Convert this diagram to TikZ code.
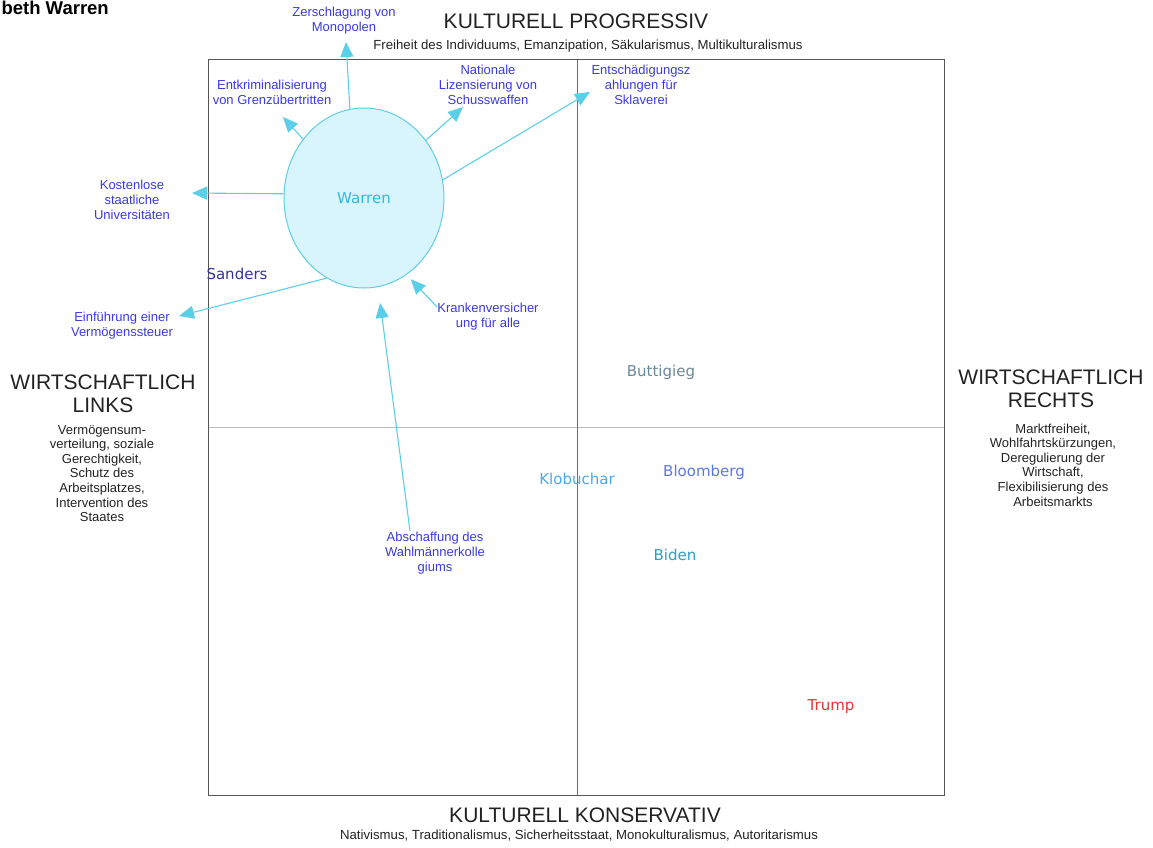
\documentclass[tikz,border=0pt]{standalone}
\usepackage{fontspec}
\setmainfont{Liberation Sans}
\newfontfamily\candfont{DejaVu Sans}
\usetikzlibrary{shapes.geometric,arrows.meta}

\definecolor{headgray}{HTML}{222222}
\definecolor{framegray}{HTML}{555555}
\definecolor{midgray}{HTML}{6E6E6E}
\definecolor{lightgray}{HTML}{BBBBBB}
\definecolor{policyblue}{RGB}{58,58,222}
\definecolor{linkcyan}{HTML}{5CCFE8}
\definecolor{bubblefill}{HTML}{D8F4FC}
\definecolor{bubbleedge}{HTML}{62CDE6}
\definecolor{warrencol}{HTML}{35B8DE}
\definecolor{sanderscol}{HTML}{333399}
\definecolor{buttcol}{HTML}{6A8896}
\definecolor{klobcol}{HTML}{4AA8EE}
\definecolor{bloomcol}{HTML}{5A78DD}
\definecolor{bidencol}{HTML}{2AA0C8}
\definecolor{trumpcol}{HTML}{EE3333}

\begin{document}
\begin{tikzpicture}[x=1pt,y=-1pt,
  axistitle/.style={font=\fontsize{21}{23}\selectfont, text=headgray, align=center, inner sep=0pt},
  axisnote/.style={font=\fontsize{13}{14.6}\selectfont, text=headgray, align=center, inner sep=0pt},
  axissub/.style={font=\fontsize{13.2}{15}\selectfont, text=headgray, inner sep=0pt},
  policy/.style={font=\fontsize{13}{15}\selectfont, text=policyblue, align=center, inner sep=0pt},
  cand/.style={font=\candfont\fontsize{15}{17}\selectfont, inner sep=0pt},
  link/.style={draw=linkcyan, line width=1.1pt, -{Triangle[length=15pt,width=13pt,fill=linkcyan]}}
]
\useasboundingbox (0,0) rectangle (1153,847);

% heading cut at the page edge
\node[anchor=base east, font=\bfseries\fontsize{18.5}{20}\selectfont, inner sep=0pt] (heading) at (109,14) {beth Warren};

% frame and axes
\coordinate (tl) at (208,59);
\coordinate (br) at (944,795);
\coordinate (vtop) at (577,59);
\coordinate (vbot) at (577,795);
\coordinate (hleft) at (208,427);
\coordinate (hright) at (944,427);
\draw[lightgray, line width=1pt] (hleft) -- (hright);
\draw[midgray, line width=1pt] (vtop) -- (vbot);
\draw[framegray, line width=1pt] (tl) rectangle (br);

% axis titles
\node[axistitle] (top) at (576,21) {KULTURELL PROGRESSIV};
\node[axissub] (topnote) at (588,46) {Freiheit des Individuums, Emanzipation, Säkularismus, Multikulturalismus};
\node[axistitle] (bottom) at (585,815) {KULTURELL KONSERVATIV};
\node[axissub] (bottomnote) at (579,836) {Nativismus, Traditionalismus, Sicherheitsstaat, Monokulturalismus, Autoritarismus};
\node[axistitle] (left) at (103,393.5) {WIRTSCHAFTLICH\\LINKS};
\node[axisnote] (leftnote) at (102,473.5) {Vermögensum-\\verteilung, soziale\\Gerechtigkeit,\\Schutz des\\Arbeitsplatzes,\\Intervention des\\Staates};
\node[axistitle] (right) at (1051,388.5) {WIRTSCHAFTLICH\\RECHTS};
\node[axisnote] (rightnote) at (1053,465) {Marktfreiheit,\\Wohlfahrtskürzungen,\\Deregulierung der\\Wirtschaft,\\Flexibilisierung des\\Arbeitsmarkts};

% Warren bubble
\node[ellipse, draw=bubbleedge, fill=bubblefill, line width=1pt,
      minimum width=160pt, minimum height=180pt, inner sep=0pt,
      text=warrencol, font=\candfont\fontsize{15}{17}\selectfont] (warren) at (364,198) {Warren};

% policy positions
\node[policy] (monopol) at (344,21) {Zerschlagung von\\Monopolen};
\node[policy] (grenze) at (272,92.5) {Entkriminalisierung\\von Grenzübertritten};
\node[policy] (waffen) at (488,85) {Nationale\\Lizensierung von\\Schusswaffen};
\node[policy] (sklaverei) at (641,85) {Entschädigungsz\\ahlungen für\\Sklaverei};
\node[policy] (uni) at (132,200) {Kostenlose\\staatliche\\Universitäten};
\node[policy] (steuer) at (122,325.5) {Einführung einer\\Vermögenssteuer};
\node[policy] (kranken) at (488,316.5) {Krankenversicher\\ung für alle};
\node[policy] (wahl) at (435,553) {Abschaffung des\\Wahlmännerkolle\\giums};

% arrow ends next to the labels
\coordinate (monopolTip) at (346,42);
\coordinate (grenzeTip) at (283,117);
\coordinate (waffenTip) at (463,107);
\coordinate (sklavereiTip) at (590,92);
\coordinate (uniTip) at (192,193);
\coordinate (steuerTip) at (179,316);
\coordinate (krankenTail) at (437,307);
\coordinate (wahlTail) at (410,531);

\draw[link] (warren.99) -- (monopolTip);
\draw[link] (warren.136) -- (grenzeTip);
\draw[link] (warren.43) -- (waffenTip);
\draw[link] (warren.13) -- (sklavereiTip);
\draw[link] (warren.177) -- (uniTip);
\draw[link] (warren.245) -- (steuerTip);
\draw[link, shorten >=6pt] (krankenTail) -- (warren.299);
\draw[link, shorten >=16pt] (wahlTail) -- (warren.279);

% candidates
\node[cand, text=sanderscol] (sanders) at (237,274) {Sanders};
\node[cand, text=buttcol] (buttigieg) at (661,372) {Buttigieg};
\node[cand, text=klobcol] (klobuchar) at (577,479) {Klobuchar};
\node[cand, text=bloomcol] (bloomberg) at (704,472) {Bloomberg};
\node[cand, text=bidencol] (biden) at (675,555) {Biden};
\node[cand, text=trumpcol] (trump) at (831,707) {Trump};
\end{tikzpicture}
\end{document}
